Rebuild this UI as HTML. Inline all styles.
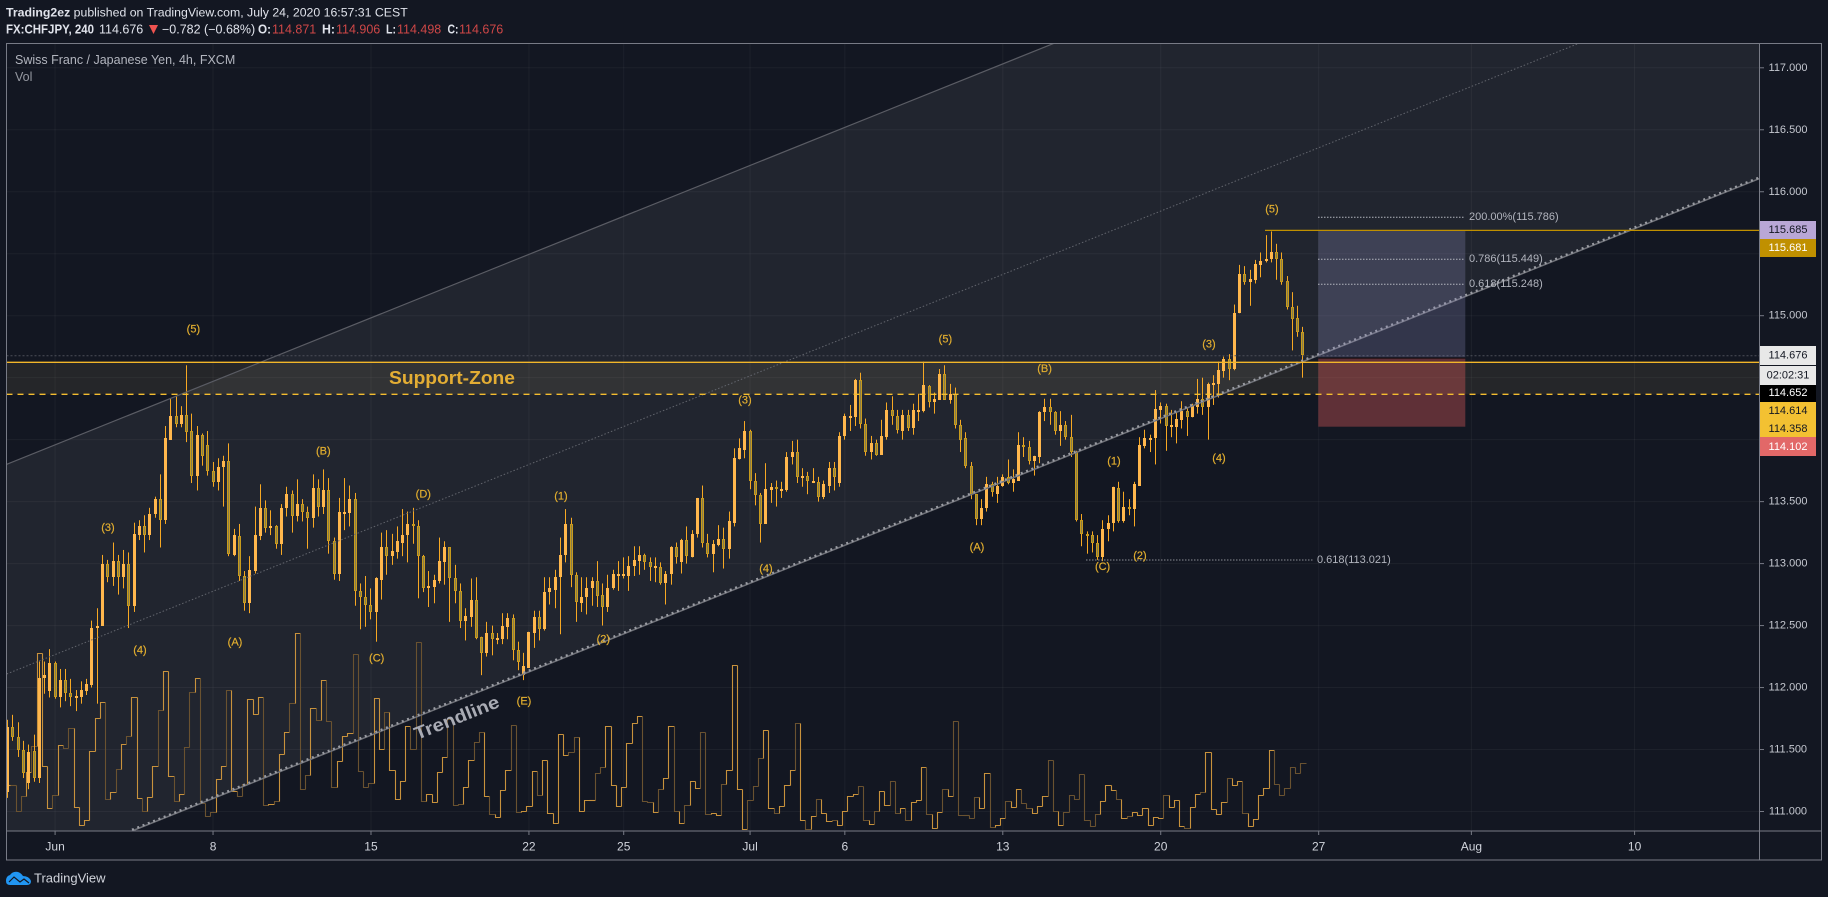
<!DOCTYPE html>
<html lang="en">
<head>
<meta charset="utf-8">
<title>CHFJPY chart</title>
<style>
html,body{margin:0;padding:0;background:#131722;width:1828px;height:897px;overflow:hidden}
svg{display:block;font-family:"Liberation Sans",sans-serif}
.w{fill:#e2ae2f;stroke:#e2ae2f;stroke-width:0.2;font-size:11px;text-anchor:middle;dominant-baseline:central}
.f{fill:#b2b5be;font-size:11px;dominant-baseline:central}
.p{font-size:11px;text-anchor:middle;dominant-baseline:central}
.h{font-size:12.5px;fill:#e0e3eb;dominant-baseline:central}
.r{fill:#cf4747}
.b{font-weight:bold}
</style>
</head>
<body>
<svg id="chart" xmlns="http://www.w3.org/2000/svg" width="1828" height="897" viewBox="0 0 1828 897">
<defs><clipPath id="plot"><rect x="6.5" y="44" width="1753" height="787"/></clipPath></defs>
<rect x="0" y="0" width="1828" height="897" fill="#131722"/>
<g id="grid"></g>
<g clip-path="url(#plot)">
<polygon points="6.7,464.3 1054,43.3 1760,43.3 1760,178.4 132,831 6.7,831" fill="rgba(255,255,255,0.064)"/>
<rect x="6.5" y="362.3" width="1753" height="32" fill="rgba(255,220,130,0.08)"/>
<g id="volume"></g>
<g id="candles"></g>
<line x1="6.7" y1="464.3" x2="1054" y2="43.3" stroke="#5a5c64" stroke-width="1.2"/>
<line x1="6.7" y1="674" x2="1579" y2="43.3" stroke="#62656d" stroke-width="1" stroke-dasharray="1.5 2"/>
<line x1="132" y1="831" x2="1760" y2="178.4" stroke="#6f7178" stroke-width="1.5"/>
<line x1="132" y1="829.8" x2="1760" y2="177.2" stroke="#9a9ca3" stroke-width="2.4" stroke-dasharray="2 3.7"/>
<line x1="6.5" y1="355.7" x2="1760" y2="355.7" stroke="#4c4f58" stroke-width="1" stroke-dasharray="2 2"/>
<rect x="1318.3" y="230.5" width="147" height="127.5" fill="rgba(140,140,190,0.27)"/>
<rect x="1318.3" y="358.5" width="147" height="68.2" fill="rgba(220,90,90,0.38)"/>
<line x1="1318.3" y1="358" x2="1465.3" y2="358" stroke="#000" stroke-width="1"/>
<line x1="6.5" y1="362.3" x2="1760" y2="362.3" stroke="#f2b62a" stroke-width="1.4"/>
<line x1="6.5" y1="394.3" x2="1760" y2="394.3" stroke="#f4bd2f" stroke-width="1.4" stroke-dasharray="6 5"/>
<line x1="1265" y1="230.4" x2="1760" y2="230.4" stroke="#c09000" stroke-width="1.3"/>
<line x1="1318" y1="217.3" x2="1465" y2="217.3" stroke="#b2b5be" stroke-width="1" stroke-dasharray="1.5 1.5"/>
<line x1="1318" y1="259.3" x2="1465" y2="259.3" stroke="#b2b5be" stroke-width="1" stroke-dasharray="1.5 1.5"/>
<line x1="1318" y1="284.3" x2="1465" y2="284.3" stroke="#b2b5be" stroke-width="1" stroke-dasharray="1.5 1.5"/>
<line x1="1086" y1="560" x2="1312.5" y2="560" stroke="#8a8c94" stroke-width="1" stroke-dasharray="1.5 1.5"/>
</g>
<text class="f" x="1469" y="217">200.00%(115.786)</text>
<text class="f" x="1469" y="259">0.786(115.449)</text>
<text class="f" x="1469" y="284">0.618(115.248)</text>
<text class="f" x="1317" y="560">0.618(113.021)</text>
<text x="389" y="378" fill="#e3ad34" font-size="18" font-weight="bold" dominant-baseline="central" textLength="126" lengthAdjust="spacingAndGlyphs">Support-Zone</text>
<text transform="translate(456.7 717.7) rotate(-21.8)" fill="#a9abb4" font-size="18" font-weight="bold" text-anchor="middle" dominant-baseline="central" textLength="90" lengthAdjust="spacingAndGlyphs">Trendline</text>
<g>
<text class="w" x="193.4" y="329.7">(5)</text>
<text class="w" x="108" y="528">(3)</text>
<text class="w" x="140" y="650.7">(4)</text>
<text class="w" x="235" y="642.3">(A)</text>
<text class="w" x="323.3" y="451.3">(B)</text>
<text class="w" x="376.7" y="658.3">(C)</text>
<text class="w" x="423.3" y="494.3">(D)</text>
<text class="w" x="524" y="701.7">(E)</text>
<text class="w" x="561" y="496.7">(1)</text>
<text class="w" x="603.3" y="639.3">(2)</text>
<text class="w" x="745" y="400.3">(3)</text>
<text class="w" x="766" y="569">(4)</text>
<text class="w" x="945.4" y="339.7">(5)</text>
<text class="w" x="977" y="547.3">(A)</text>
<text class="w" x="1044.6" y="369">(B)</text>
<text class="w" x="1102.6" y="567">(C)</text>
<text class="w" x="1114" y="461.3">(1)</text>
<text class="w" x="1140" y="556">(2)</text>
<text class="w" x="1209" y="344.3">(3)</text>
<text class="w" x="1219" y="458.3">(4)</text>
<text class="w" x="1272" y="209.3">(5)</text>
</g>
<rect x="6.5" y="43.5" width="1815" height="816.5" fill="none" stroke="#787b86" stroke-width="1"/>
<line x1="6.5" y1="831" x2="1821.5" y2="831" stroke="#787b86" stroke-width="1"/>
<line x1="1759.5" y1="43.5" x2="1759.5" y2="860" stroke="#787b86" stroke-width="1"/>
<g id="priceAxis"></g>
<g id="timeAxis"></g>
<g>
<rect x="1760" y="221" width="56" height="18" fill="#b9a7d6"/>
<text class="p" x="1788" y="230" fill="#131722">115.685</text>
<rect x="1760" y="239" width="56" height="18" fill="#c09000"/>
<text class="p" x="1788" y="248" fill="#fff">115.681</text>
<rect x="1760" y="346" width="56" height="19" fill="#e8e8e8"/>
<text class="p" x="1788" y="355.5" fill="#131722">114.676</text>
<rect x="1760" y="366" width="56" height="19" fill="#e8e8e8"/>
<text class="p" x="1788" y="375.5" fill="#131722">02:02:31</text>
<rect x="1760" y="385" width="56" height="17" fill="#000"/>
<text class="p" x="1788" y="393" fill="#fff">114.652</text>
<rect x="1760" y="402" width="56" height="35" fill="#f3c132"/>
<text class="p" x="1788" y="411" fill="#131722">114.614</text>
<text class="p" x="1788" y="429" fill="#131722">114.358</text>
<rect x="1760" y="437" width="56" height="19" fill="#e26868"/>
<text class="p" x="1788" y="447" fill="#fff">114.102</text>
</g>
<g>
<text class="h" x="6" y="12.5" style="font-size:12.3px"><tspan class="b">Trading2ez</tspan> published on TradingView.com, July 24, 2020 16:57:31 CEST</text>
<text class="h b" x="6" y="29.5" textLength="88" lengthAdjust="spacingAndGlyphs">FX:CHFJPY, 240</text>
<text class="h" x="99" y="29.5">114.676</text>
<polygon points="149,25 158,25 153.5,34" fill="#ef5350"/>
<text class="h" x="162" y="29.5">−0.782 (−0.68%)</text>
<text class="h b" x="258" y="29.5" textLength="13" lengthAdjust="spacingAndGlyphs">O:</text>
<text class="h r" x="272" y="29.5">114.871</text>
<text class="h b" x="322" y="29.5" textLength="13" lengthAdjust="spacingAndGlyphs">H:</text>
<text class="h r" x="336" y="29.5">114.906</text>
<text class="h b" x="386" y="29.5" textLength="10" lengthAdjust="spacingAndGlyphs">L:</text>
<text class="h r" x="397" y="29.5">114.498</text>
<text class="h b" x="447.5" y="29.5" textLength="11" lengthAdjust="spacingAndGlyphs">C:</text>
<text class="h r" x="459" y="29.5">114.676</text>
</g>
<text x="15" y="60" fill="#b2b5be" font-size="12.5" dominant-baseline="central">Swiss Franc / Japanese Yen, 4h, FXCM</text>
<text x="15" y="77" fill="#9598a1" font-size="12.5" dominant-baseline="central">Vol</text>
<g>
<path d="M6,881 Q6,876 10,875 Q13,871 18,872 Q21,873 23,876 Q29,876 31,881 Q31,885 27,885 L10,885 Q6,885 6,881 Z" fill="#2196f3"/>
<polyline points="9,882 14,877 20,882 24,879 29,883" fill="none" stroke="#131722" stroke-width="1.2"/>
<text x="34" y="878" fill="#d1d4dc" font-size="13" dominant-baseline="central">TradingView</text>
</g>
</svg>
<script>
const opens=[111.16,111.68,111.60,111.50,111.23,111.49,111.27,112.08,111.97,112.20,
111.92,112.06,111.96,111.92,111.92,111.97,112.02,112.48,112.50,113.00,
112.89,113.02,112.89,113.00,112.66,113.23,113.30,113.23,113.40,113.52,
113.35,114.00,114.19,114.13,114.20,114.07,113.71,114.04,113.96,113.75,
113.66,113.78,113.83,113.07,113.22,112.90,112.68,112.94,113.22,113.45,
113.29,113.30,113.16,113.45,113.56,113.38,113.48,113.42,113.37,113.61,
113.46,113.59,113.18,112.92,113.41,113.41,113.52,112.78,112.73,112.67,
112.61,112.87,113.13,113.06,113.09,113.17,113.23,113.32,113.30,113.06,
112.80,112.81,112.86,113.01,113.13,112.88,112.78,112.54,112.57,112.71,
112.41,112.28,112.44,112.40,112.39,112.49,112.56,112.30,112.10,112.16,
112.44,112.57,112.47,112.77,112.79,112.89,113.07,113.32,112.91,112.68,
112.73,112.80,112.86,112.75,112.65,112.80,112.91,112.90,112.90,112.98,
113.02,113.07,113.01,112.97,112.97,112.84,112.92,113.13,113.01,113.19,
113.05,113.24,113.53,113.17,113.08,113.15,113.20,113.12,113.33,113.84,
113.92,114.07,113.67,113.55,113.32,113.59,113.62,113.59,113.59,113.86,
113.90,113.70,113.71,113.66,113.66,113.54,113.63,113.77,113.65,114.03,
114.18,114.18,114.48,114.13,113.90,113.97,113.88,114.02,114.24,114.19,
114.07,114.20,114.09,114.23,114.23,114.43,114.30,114.32,114.53,114.32,
114.37,114.12,114.01,113.79,113.56,113.36,113.45,113.64,113.56,113.63,
113.70,113.65,113.67,113.96,113.94,113.83,113.86,114.22,114.26,114.22,
114.07,114.12,114.02,113.90,113.35,113.24,113.23,113.17,113.05,113.28,
113.33,113.61,113.34,113.46,113.44,113.63,113.95,114.01,114.01,114.24,
114.27,114.10,114.10,114.16,114.23,114.18,114.26,114.33,114.26,114.44,
114.45,114.55,114.65,114.57,115.02,115.34,115.27,115.29,115.41,115.44,
115.46,115.51,115.46,115.28,115.07,114.98,114.87];
const highs=[111.74,111.78,111.72,111.57,111.54,111.62,112.21,112.21,112.31,112.21,
112.15,112.15,112.07,111.98,112.05,112.07,112.54,112.64,113.07,113.03,
113.17,113.07,113.11,113.09,113.33,113.35,113.39,113.45,113.54,113.72,
114.11,114.33,114.35,114.27,114.60,114.21,114.11,114.05,114.07,113.82,
113.85,113.87,113.97,113.28,113.32,112.94,113.06,113.46,113.64,113.51,
113.43,113.31,113.48,113.62,113.59,113.68,113.52,113.46,113.72,113.68,
113.76,113.69,113.21,113.53,113.69,113.63,113.57,112.84,112.90,112.80,
112.89,113.25,113.27,113.24,113.30,113.44,113.42,113.45,113.35,113.07,
112.94,112.91,113.21,113.18,113.13,112.99,112.84,112.64,112.88,112.89,
112.41,112.53,112.50,112.44,112.60,112.60,112.59,112.37,112.28,112.45,
112.62,112.62,112.89,112.89,112.95,113.21,113.44,113.37,112.93,112.89,
112.89,112.89,113.02,112.84,112.91,112.95,113.02,113.05,113.06,113.14,
113.14,113.08,113.05,113.05,113.01,112.94,113.14,113.17,113.20,113.30,
113.27,113.53,113.63,113.24,113.19,113.31,113.29,113.42,113.93,114.01,
114.15,114.08,113.73,113.57,113.81,113.65,113.67,113.66,113.90,113.99,
114.00,113.77,113.74,113.77,113.70,113.67,113.82,113.82,114.06,114.21,
114.28,114.49,114.54,114.17,114.03,114.00,114.16,114.30,114.35,114.24,
114.24,114.24,114.29,114.37,114.63,114.44,114.38,114.57,114.60,114.45,
114.42,114.16,114.06,113.82,113.56,113.52,113.70,113.66,113.70,113.72,
113.84,113.76,114.06,114.02,113.99,113.87,114.23,114.33,114.33,114.23,
114.23,114.15,114.20,113.91,113.40,113.26,113.26,113.23,113.35,113.39,
113.62,113.66,113.58,113.52,113.66,114.02,114.08,114.04,114.40,114.30,
114.29,114.24,114.22,114.31,114.26,114.29,114.49,114.50,114.46,114.52,
114.63,114.67,114.69,115.09,115.41,115.40,115.37,115.45,115.51,115.65,
115.68,115.58,115.51,115.32,115.19,115.08,114.91];
const lows=[111.11,111.57,111.44,111.27,111.18,111.24,111.23,111.95,111.92,111.91,
111.84,111.89,111.85,111.81,111.87,111.94,112.00,111.87,112.50,112.85,
112.82,112.75,112.80,112.48,112.61,113.19,113.09,113.19,113.37,113.13,
113.32,114.00,114.10,114.10,113.98,113.65,113.59,113.79,113.71,113.62,
113.59,113.46,113.06,113.06,112.86,112.62,112.60,112.92,113.19,113.25,
113.23,113.12,113.07,113.38,113.25,113.34,113.34,113.12,113.29,113.38,
113.40,113.08,112.87,112.86,113.27,113.30,112.66,112.47,112.49,112.55,
112.37,112.71,112.91,112.99,113.04,113.06,113.01,113.16,112.72,112.77,
112.65,112.68,112.84,112.83,112.53,112.68,112.48,112.38,112.49,112.39,
112.10,112.25,112.26,112.35,112.35,112.39,112.22,112.14,112.06,112.16,
112.32,112.38,112.46,112.67,112.64,112.43,113.01,112.81,112.53,112.61,
112.59,112.66,112.65,112.50,112.61,112.79,112.78,112.88,112.78,112.90,
112.91,112.95,112.86,112.85,112.83,112.67,112.83,113.00,112.92,113.00,
113.05,113.21,113.13,113.05,112.93,113.14,112.96,113.04,113.30,113.84,
113.85,113.60,113.47,113.17,113.32,113.49,113.46,113.53,113.58,113.80,
113.65,113.62,113.56,113.65,113.50,113.52,113.57,113.59,113.62,114.00,
114.07,114.11,114.09,113.87,113.84,113.87,113.88,114.00,114.12,114.05,
114.00,114.07,114.04,114.15,114.22,114.26,114.21,114.32,114.32,114.29,
114.09,113.90,113.77,113.52,113.31,113.31,113.42,113.54,113.49,113.62,
113.64,113.58,113.67,113.86,113.80,113.71,113.81,114.15,114.12,114.04,
113.95,114.00,113.86,113.34,113.14,113.08,113.09,113.03,113.02,113.18,
113.26,113.33,113.33,113.39,113.30,113.63,113.93,113.90,113.80,114.13,
113.91,114.02,113.97,114.09,114.03,114.18,114.21,114.20,114.00,114.28,
114.34,114.50,114.48,114.56,115.02,115.25,115.08,115.26,115.31,115.43,
115.43,115.29,115.25,115.05,114.72,114.83,114.50];
const closes=[111.68,111.60,111.50,111.31,111.48,111.27,112.08,112.10,112.20,111.92,
112.06,111.96,111.92,111.93,111.98,112.03,112.48,112.50,113.00,112.89,
113.02,112.89,113.00,112.66,113.24,113.30,113.23,113.40,113.52,113.35,
114.01,114.19,114.13,114.20,114.06,113.71,114.04,113.87,113.75,113.66,
113.78,113.83,113.08,113.23,112.90,112.68,112.95,113.23,113.45,113.29,
113.30,113.16,113.45,113.56,113.38,113.48,113.42,113.37,113.61,113.46,
113.59,113.18,112.92,113.42,113.42,113.52,112.78,112.73,112.67,112.61,
112.88,113.13,113.06,113.10,113.18,113.23,113.32,113.30,113.06,112.80,
112.82,112.87,113.02,113.13,112.88,112.78,112.54,112.58,112.71,112.40,
112.28,112.44,112.39,112.40,112.50,112.56,112.30,112.21,112.17,112.45,
112.57,112.47,112.77,112.80,112.89,113.07,113.32,112.91,112.69,112.73,
112.80,112.86,112.74,112.65,112.80,112.92,112.92,112.92,112.98,113.03,
113.07,113.01,112.97,112.98,112.84,112.92,113.13,113.05,113.19,113.06,
113.24,113.53,113.17,113.08,113.16,113.20,113.12,113.34,113.85,113.93,
114.07,113.67,113.55,113.32,113.60,113.62,113.60,113.60,113.86,113.90,
113.70,113.71,113.67,113.67,113.54,113.64,113.77,113.70,114.03,114.19,
114.19,114.48,114.13,113.90,113.97,113.88,114.03,114.24,114.19,114.08,
114.20,114.09,114.24,114.24,114.44,114.30,114.33,114.53,114.32,114.37,
114.12,114.00,113.79,113.56,113.36,113.45,113.64,113.58,113.63,113.70,
113.65,113.68,113.96,113.94,113.83,113.87,114.22,114.26,114.22,114.07,
114.12,114.02,113.90,113.35,113.24,113.22,113.17,113.05,113.28,113.33,
113.62,113.34,113.46,113.44,113.64,113.96,114.01,114.01,114.25,114.27,
114.11,114.12,114.17,114.23,114.18,114.27,114.33,114.26,114.45,114.46,
114.56,114.65,114.57,115.02,115.34,115.27,115.30,115.42,115.44,115.46,
115.51,115.46,115.27,115.07,114.97,114.87,114.68];
const volumes=[450,450,190,340,580,840,1770,640,220,350,
850,820,1020,230,50,100,790,1120,1280,310,
380,610,860,940,1330,320,190,330,640,1200,
1590,540,290,360,830,1380,1520,270,140,180,
510,640,1400,390,340,460,1310,1160,1330,250,
260,290,760,980,1270,1970,410,550,1220,1100,
1500,1090,430,690,940,970,1760,590,430,470,
1320,810,1180,600,310,490,1040,810,1880,290,
360,280,580,730,1110,250,260,430,700,880,
980,340,160,130,400,600,1050,180,190,240,
590,350,700,170,70,960,750,780,930,190,
300,300,570,630,1040,450,240,430,870,1070,
1140,290,280,180,410,520,1040,190,70,250,
490,420,980,160,170,150,460,600,1650,410,
10,300,440,720,1000,220,170,240,450,600,
1070,100,10,140,310,170,90,100,50,190,
340,360,440,100,60,190,390,250,490,170,
220,100,280,300,630,160,20,180,410,340,
1090,150,150,120,330,220,570,30,50,120,
290,230,410,270,220,170,240,340,700,190,
50,180,350,310,560,100,40,160,290,450,
400,310,120,140,180,150,220,50,130,120,
350,230,300,40,20,230,360,380,780,210,
160,280,520,450,490,170,40,110,350,420,
800,460,350,420,630,570,670];
const priceGrid=[117,116.5,116,115.5,115,114.5,114,113.5,113,112.5,112,111.5,111];
const priceTicks=[117,116.5,116,115.5,115,113.5,113,112.5,112,111.5,111];
const timeLabels=["Jun","8","15","22","25","Jul","6","13","20","27","Aug","10"];
const timeBars=[9,39,69,99,117,141,159,189,219,249,278,309];

const NS="http://www.w3.org/2000/svg";
function xAt(i){return 7.7+5.265*i;}
function yAt(p){return 315.7+(115-p)*123.95;}
function vAt(v){return 831-v*0.1;}
function add(parent,tag,attrs,text){
  const el=document.createElementNS(NS,tag);
  for(const k in attrs){el.setAttribute(k,attrs[k]);}
  if(text!==undefined){el.textContent=text;}
  parent.appendChild(el);
  return el;
}

const grid=document.getElementById('grid');
priceGrid.forEach(function(p){
  const l=add(grid,'line',{x1:6.5,x2:1759.5,y1:yAt(p),y2:yAt(p),stroke:'rgba(255,255,255,0.045)','stroke-width':1});
  
  
});
timeBars.forEach(function(b){
  const l=add(grid,'line',{x1:xAt(b),x2:xAt(b),y1:44,y2:831,stroke:'rgba(255,255,255,0.045)','stroke-width':1});
  
  
});

const vol=document.getElementById('volume');
const half=5.265/2;
volumes.forEach(function(v,i){
  const up=closes[i]>=opens[i];
  const xl=Math.round(xAt(i)-half)+0.5, xr=Math.round(xAt(i)+half)+0.5;
  const y=Math.round(vAt(v))-0.5;
  const prevY=i>0?Math.round(vAt(volumes[i-1]))-0.5:y;
  const s=add(vol,'path',{d:'M'+xl+' '+prevY+'L'+xl+' '+y+'L'+xr+' '+y,fill:'none',stroke:up?'#c8923c':'#6a5230','stroke-width':1.1});
  
  
});

const cg=document.getElementById('candles');
opens.forEach(function(o,i){
  const c=closes[i], up=c>=o;
  const cx=Math.floor(xAt(i));
  const top=Math.round(yAt(Math.max(o,c))), bot=Math.round(yAt(Math.min(o,c)));
  const h=Math.max(bot-top,2);
  const g=add(cg,'g',{});
  
  
  const w=add(g,'rect',{x:cx,y:yAt(highs[i]),width:1,height:yAt(lows[i])-yAt(highs[i]),fill:'#f7a823'});
  
  
  const b=up
    ? add(g,'rect',{x:cx-1,y:top,width:3,height:h,fill:'#ffb74d'})
    : add(g,'rect',{x:cx-0.5,y:top+0.5,width:2,height:Math.max(h-1,1),fill:'#8a7d4a',stroke:'#c89b1c','stroke-width':1});
  
  
});

const pa=document.getElementById('priceAxis');
priceTicks.forEach(function(p){
  const t=add(pa,'line',{x1:1760,x2:1764,y1:yAt(p),y2:yAt(p),stroke:'#787b86','stroke-width':1});
  
  
  const l=add(pa,'text',{x:1788,y:yAt(p),fill:'#c5c8d0','font-size':11,'text-anchor':'middle','dominant-baseline':'central'},p.toFixed(3));
  
  
});
const ta=document.getElementById('timeAxis');
timeLabels.forEach(function(s,i){
  const x=xAt(timeBars[i]);
  const t=add(ta,'line',{x1:x,x2:x,y1:831,y2:835,stroke:'#787b86','stroke-width':1});
  
  
  const l=add(ta,'text',{x:x,y:846.7,fill:'#d1d4dc','font-size':12,'text-anchor':'middle','dominant-baseline':'central'},s);
  
  
});
</script>
</body>
</html>
